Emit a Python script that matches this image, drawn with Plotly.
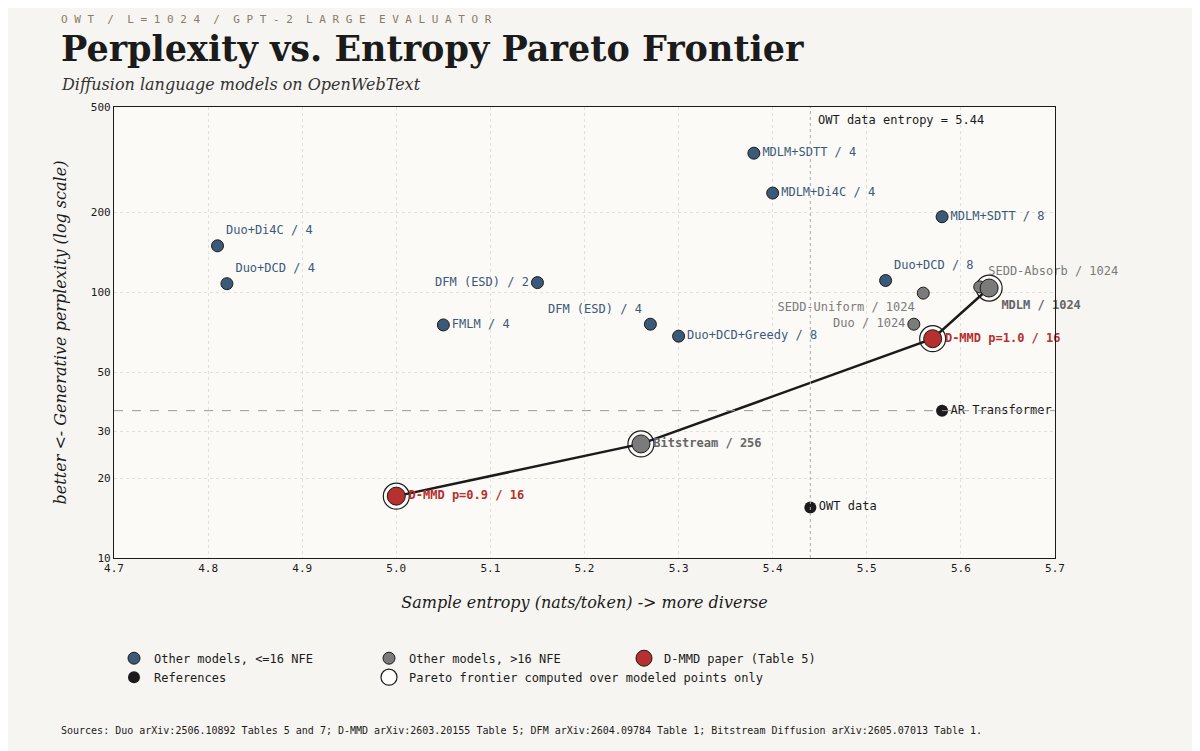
import plotly.graph_objects as go

# modeled points: (entropy, perplexity)
blue_names = ["MDLM+SDTT / 4", "MDLM+Di4C / 4", "MDLM+SDTT / 8", "Duo+Di4C / 4", "Duo+DCD / 4",
              "DFM (ESD) / 2", "FMLM / 4", "DFM (ESD) / 4", "Duo+DCD+Greedy / 8", "Duo+DCD / 8"]
blue_x = [5.38, 5.40, 5.58, 4.81, 4.82, 5.15, 5.05, 5.27, 5.30, 5.52]
blue_y = [335, 237, 193, 150, 108, 109, 75.5, 76, 68.5, 111]
blue_pos = ["middle right", "middle right", "middle right", "top right", "top right",
            "middle left", "middle right", "top left", "middle right", "top right"]

gray_names = ["SEDD-Uniform / 1024", "Duo / 1024", "SEDD-Absorb / 1024"]
gray_x = [5.56, 5.55, 5.62]
gray_y = [99.5, 76, 105]
gray_pos = ["bottom left", "middle left", "top right"]

red_names = ["D-MMD p=0.9 / 16", "D-MMD p=1.0 / 16"]
red_x = [5.00, 5.57]
red_y = [17.1, 67]

big_gray_names = ["Bitstream / 256", "MDLM / 1024"]
big_gray_x = [5.26, 5.63]
big_gray_y = [26.9, 104]
big_gray_pos = ["middle right", "bottom right"]

ref_names = ["AR Transformer", "OWT data"]
ref_x = [5.58, 5.44]
ref_y = [35.9, 15.5]

pareto_x = [5.00, 5.26, 5.57, 5.63]
pareto_y = [17.1, 26.9, 67, 104]

owt_entropy = 5.44
ar_ppl = 35.9

BLUE = "#3b5a7a"
GRAY = "#7b7b7b"
RED = "#b5302e"
BLACK = "#1b1b1b"
MONO = "DejaVu Sans Mono"
SERIF = "DejaVu Serif"

fig = go.Figure()

fig.add_trace(go.Scatter(x=pareto_x, y=pareto_y, mode="lines", line=dict(color=BLACK, width=2.5),
                         showlegend=False, hoverinfo="skip"))
fig.add_trace(go.Scatter(x=pareto_x, y=pareto_y, mode="markers", showlegend=False, cliponaxis=False,
                         marker=dict(size=26, color="rgba(0,0,0,0)", line=dict(color=BLACK, width=1.2))))
fig.add_trace(go.Scatter(x=blue_x, y=blue_y, mode="markers+text", text=blue_names, textposition=blue_pos,
                         cliponaxis=False,
                         textfont=dict(family=MONO, size=12, color=BLUE), name="Other models, <=16 NFE",
                         marker=dict(size=12, color=BLUE, line=dict(color=BLACK, width=1))))
fig.add_trace(go.Scatter(x=gray_x, y=gray_y, mode="markers+text", text=gray_names, textposition=gray_pos,
                         cliponaxis=False,
                         textfont=dict(family=MONO, size=12, color=GRAY), name="Other models, >16 NFE",
                         marker=dict(size=12, color=GRAY, line=dict(color=BLACK, width=1))))
fig.add_trace(go.Scatter(x=big_gray_x, y=big_gray_y, mode="markers+text", cliponaxis=False,
                         text=["<b>" + t + "</b>" for t in big_gray_names], textposition=big_gray_pos,
                         textfont=dict(family=MONO, size=12, color="#666666"), showlegend=False,
                         marker=dict(size=18, color=GRAY, line=dict(color=BLACK, width=1))))
fig.add_trace(go.Scatter(x=red_x, y=red_y, mode="markers+text", cliponaxis=False,
                         text=["<b>" + t + "</b>" for t in red_names], textposition="middle right",
                         textfont=dict(family=MONO, size=12, color=RED), name="D-MMD paper (Table 5)",
                         marker=dict(size=18, color=RED, line=dict(color=BLACK, width=1))))
fig.add_trace(go.Scatter(x=ref_x, y=ref_y, mode="markers+text", text=ref_names, textposition="middle right",
                         cliponaxis=False,
                         textfont=dict(family=MONO, size=12, color=BLACK), name="References",
                         marker=dict(size=12, color=BLACK)))
fig.add_trace(go.Scatter(x=[None], y=[None], mode="markers", name="Pareto frontier computed over modeled points only",
                         marker=dict(size=20, color="white", line=dict(color=BLACK, width=1.2))))

fig.add_vline(x=owt_entropy, line=dict(color="#aaaaaa", width=1, dash="dot"))
fig.add_hline(y=ar_ppl, line=dict(color="#999999", width=1, dash="dash"))
fig.add_annotation(x=owt_entropy, y=1, yref="paper", yanchor="top", xanchor="left", xshift=6, yshift=-4,
                   text="OWT data entropy = %.2f" % owt_entropy, showarrow=False,
                   font=dict(family=MONO, size=12, color=BLACK))
fig.add_annotation(x=1, xref="paper", y=ar_ppl, yref="y", yanchor="bottom", xanchor="right", xshift=-6,
                   yshift=2, text="AR Transformer ~= %.1f" % ar_ppl, showarrow=False,
                   font=dict(family=MONO, size=12, color=BLACK))

fig.add_annotation(x=-0.058, y=1.175, xref="paper", yref="paper", xanchor="left", yanchor="bottom",
                   text="O W T  /  L = 1 0 2 4  /  G P T - 2  L A R G E  E V A L U A T O R", showarrow=False,
                   font=dict(family=MONO, size=11, color="#8a7a68"))
fig.add_annotation(x=-0.058, y=1.18, xref="paper", yref="paper", xanchor="left", yanchor="top",
                   text="<b>Perplexity vs. Entropy Pareto Frontier</b>", showarrow=False,
                   font=dict(family=SERIF, size=35, color=BLACK))
fig.add_annotation(x=-0.058, y=1.075, xref="paper", yref="paper", xanchor="left", yanchor="top",
                   text="<i>Diffusion language models on OpenWebText</i>", showarrow=False,
                   font=dict(family=SERIF, size=16, color="#333333"))
fig.add_annotation(x=-0.058, y=-0.365, xref="paper", yref="paper", xanchor="left", yanchor="top",
                   text="Sources: Duo arXiv:2506.10892 Tables 5 and 7; D-MMD arXiv:2603.20155 Table 5; "
                        "DFM arXiv:2604.09784 Table 1; Bitstream Diffusion arXiv:2605.07013 Table 1.",
                   showarrow=False, font=dict(family=MONO, size=10, color=BLACK))

axis_common = dict(showline=True, linecolor=BLACK, linewidth=1.2, mirror=True, ticks="",
                   gridcolor="#e2e0da", griddash="dot", zeroline=False,
                   tickfont=dict(family=MONO, size=11, color=BLACK))
fig.update_xaxes(range=[4.7, 5.7], dtick=0.1, tickformat=".1f",
                 title=dict(text="<i>Sample entropy (nats/token) -> more diverse</i>",
                            font=dict(family=SERIF, size=16, color=BLACK), standoff=22), **axis_common)
fig.update_yaxes(type="log", range=[1, 2.699], tickvals=[10, 20, 30, 50, 100, 200, 500],
                 title=dict(text="<i>better <- Generative perplexity (log scale)</i>",
                            font=dict(family=SERIF, size=16, color=BLACK), standoff=20), **axis_common)

fig.update_layout(
    width=1200, height=751,
    paper_bgcolor="#f7f5f1", plot_bgcolor="#fbfaf7",
    margin=dict(l=106, r=153, t=99, b=201),
    legend=dict(orientation="h", x=0.0, y=-0.19, xanchor="left", yanchor="top",
                entrywidth=210, bgcolor="rgba(0,0,0,0)",
                font=dict(family=MONO, size=12, color=BLACK)),
    font=dict(family=MONO),
)

fig.write_html("out.html")
